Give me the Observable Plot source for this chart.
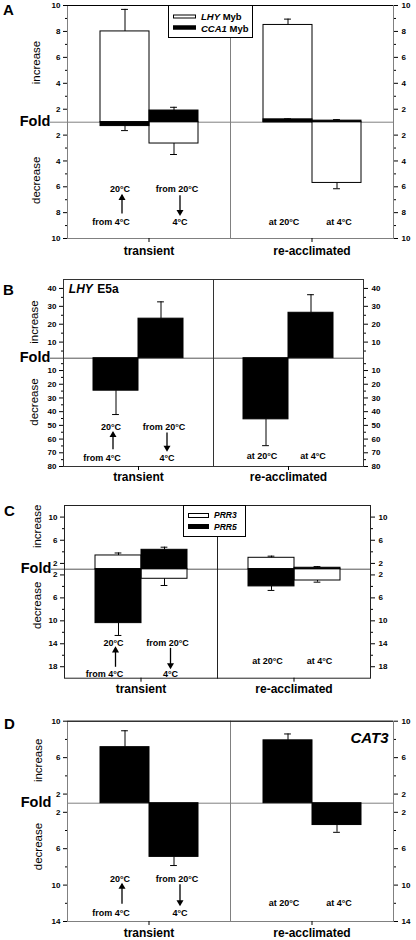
<!DOCTYPE html>
<html><head><meta charset="utf-8">
<script src="https://cdn.jsdelivr.net/npm/d3@7"></script>
<script src="https://cdn.jsdelivr.net/npm/@observablehq/plot@0.6"></script>
<style>
body{margin:0;background:#fff;}
#root{position:relative;width:416px;height:940px;overflow:hidden;font-family:"Liberation Sans",Arial,sans-serif;}
.panel{position:absolute;left:0;}
.legend{position:absolute;background:#fff;border:1px solid #000;box-sizing:border-box;font-weight:bold;color:#000;z-index:5;}
.legend .row{position:absolute;left:0;display:flex;align-items:center;white-space:nowrap;transform:translateY(-50%);}
.legend .sw{display:inline-block;border:1px solid #000;box-sizing:border-box;}
</style></head><body><div id="root"></div>
<script>
// ---------- data ----------
const groups = ["transient", "transient", "re-acclimated", "re-acclimated"];
const temps = ["20°C", "4°C", "20°C", "4°C"]; // final temperature of each condition
// fold change: positive = increase, negative = decrease
const lhyMyb   = [8.0, -2.65, 8.5, -5.7];
const lhyMybSE = [1.7, 0.85, 0.45, 0.45];
const cca1Myb   = [-1.3, 1.9, 1.22, 1.12];
const cca1MybSE = [0.35, 0.25, 0.04, 0.08];
const lhyE5a   = [-24.7, 23.1, -45.6, 26.4];
const lhyE5aSE = [17.4, 9.4, 19.2, 10.1];
const prr3   = [3.37, -2.67, 2.97, -2.97];
const prr3SE = [0.43, 1.17, 0.28, 0.29];
const prr5   = [-10.4, 4.35, -4.0, 1.25];
const prr5SE = [2.15, 0.45, 0.7, 0.2];
const cat3   = [7.15, -6.9, 7.9, -3.4];
const cat3SE = [1.8, 0.95, 0.7, 0.8];
// tick labels
const ticksUpA = [2, 4, 6, 8, 10], ticksDownA = [2, 4, 6, 8, 10], minorUpA = [3, 5, 7, 9], minorDownA = [3, 5, 7, 9];
const ticksUpB = [10, 20, 30, 40], ticksDownB = [10, 20, 30, 40, 50, 60, 70, 80], minorUpB = [5, 15, 25, 35], minorDownB = [5, 15, 25, 35, 45, 55, 65, 75];
const ticksUpC = [2, 6, 10], ticksDownC = [2, 6, 10, 14, 18], minorUpC = [4, 8], minorDownC = [4, 8, 12, 16];
const ticksUpD = [2, 6, 10], ticksDownD = [2, 6, 10, 14], minorUpD = [4, 8], minorDownD = [4, 8, 12];

// ---------- layout ----------
const panels = [
  {letter: "A", svgTop: 0, svgH: 262, left: 67, right: 393, top: 5, zero: 121.7, bottom: 238, up: 10, down: 10,
   ticks: [ticksUpA, ticksDownA, minorUpA, minorDownA],
   series: [{values: lhyMyb, se: lhyMybSE, fill: "white"}, {values: cca1Myb, se: cca1MybSE, fill: "black"}],
   frame: "#808080", topRule: true, zeroColor: "#808080", extendZero: true,
   ann: {top: 6.2, arrowHi: 6.7, arrowLo: 8.1, bottom: 8.7, at: 8.7},
   incY: 5.6, decY: 5.5, labX: 36, letterDy: 5, fxPad: 4},
  {letter: "B", svgTop: 262, svgH: 228, left: 63, right: 363, top: 279, zero: 357.7, bottom: 466, up: 45, down: 80,
   ticks: [ticksUpB, ticksDownB, minorUpB, minorDownB],
   series: [{values: lhyE5a, se: lhyE5aSE, fill: "black"}],
   frame: "#333", topRule: false, zeroColor: "#555", extendZero: true,
   ann: {top: 51.5, arrowHi: 55.6, arrowLo: 67.8, bottom: 74, at: 72.2},
   incY: 21.2, decY: 33, labX: 33.5, letterDy: 10.5, fxPad: 2,
   gene: true},
  {letter: "C", svgTop: 490, svgH: 210, left: 63, right: 370, top: 505, zero: 568.7, bottom: 677.7, up: 12, down: 20,
   ticks: [ticksUpC, ticksDownC, minorUpC, minorDownC],
   series: [{values: prr3, se: prr3SE, fill: "white"}, {values: prr5, se: prr5SE, fill: "black"}],
   frame: "#222", topRule: false, zeroColor: "#555", extendZero: true,
   ann: {top: 13.8, arrowHi: 14.8, arrowLo: 18.1, bottom: 19.2, at: 17.1},
   incY: 8.4, decY: 7.3, labX: 35.5, letterDy: 5.7, fxPad: 2},
  {letter: "D", svgTop: 700, svgH: 240, left: 66, right: 393, top: 720.7, zero: 802.7, bottom: 921, up: 10, down: 14,
   ticks: [ticksUpD, ticksDownD, minorUpD, minorDownD],
   series: [{values: cat3, se: cat3SE, fill: "black"}],
   frame: "#808080", topRule: true, zeroColor: "#808080", extendZero: false,
   ann: {top: 9.3, arrowHi: 9.97, arrowLo: 12.1, bottom: 13.1, at: 12.0},
   incY: 5.7, decY: 5.76, labX: 37, letterDy: 3.3, fxPad: 3,
   cat: true}
];

const root = document.getElementById("root");
const FONT = "Liberation Sans, Arial, sans-serif";

function makePanel(p) {
  const rows = [];
  p.series.forEach(s => s.values.forEach((v, i) => rows.push({g: groups[i], t: temps[i], v, se: s.se[i], fill: s.fill})));
  const base = d => d.v > 0 ? 1 : -1;
  const errEnd = d => d.v + Math.sign(d.v) * d.se;
  const mt = p.top - p.svgTop, mb = p.svgTop + p.svgH - p.bottom;
  const z = p.zero - p.svgTop;
  const PO = 0.66;
  const step = ((p.right - p.left) / 2) / (2 + 2 * PO);
  const capInset = (step - 7) / 2;
  const first = [{g: "transient"}], last = [{g: "re-acclimated"}];
  const [tu, td, mu, md] = p.ticks;
  const majors = [...tu, ...td.map(d => -d)];
  const minors = [...mu, ...md.map(d => -d)];
  const a = p.ann;
  const c1 = [{g: "transient", t: "20°C"}], c2 = [{g: "transient", t: "4°C"}];
  const r1 = [{g: "re-acclimated", t: "20°C"}], r2 = [{g: "re-acclimated", t: "4°C"}];
  const fmt = d => String(Math.abs(d));
  const marks = [
    Plot.ruleY(first, {fx: "g", y: () => 1, stroke: p.zeroColor, insetLeft: p.extendZero ? -(p.left - 50) : 0}),
    Plot.ruleY(last, {fx: "g", y: () => 1, stroke: p.zeroColor}),
    Plot.barY(rows, {fx: "g", x: "t", y1: base, y2: "v", fill: "fill", stroke: "#000", strokeWidth: 1}),
    Plot.ruleX(rows, {fx: "g", x: "t", y1: "v", y2: errEnd, stroke: "#000", strokeWidth: 1}),
    Plot.tickY(rows, {fx: "g", x: "t", y: errEnd, stroke: "#000", strokeWidth: 1, insetLeft: capInset, insetRight: capInset}),
    Plot.frame({stroke: p.frame}),
    p.topRule ? Plot.ruleY([p.up], {stroke: "#000"}) : null,
    Plot.axisY({anchor: "left", ticks: majors, tickFormat: fmt, tickSize: 4, tickPadding: 3, label: null, fontSize: 8}),
    Plot.axisY({anchor: "left", ticks: minors, tickFormat: () => "", tickSize: 2, label: null}),
    Plot.axisY({anchor: "right", ticks: majors, tickFormat: fmt, tickSize: 4, tickPadding: 4, label: null, fontSize: 8}),
    Plot.axisY({anchor: "right", ticks: minors, tickFormat: () => "", tickSize: 2, label: null}),
    Plot.axisFx({anchor: "bottom", tickSize: 4, tickPadding: p.fxPad, label: null, fontSize: 12, fontWeight: "bold"}),
    // side labels
    Plot.text(first, {fx: "g", y: () => p.incY, frameAnchor: "left", text: () => "increase", rotate: -90, textAnchor: "middle", dx: p.labX - p.left, fontSize: 11.5, fontWeight: "normal"}),
    Plot.text(first, {fx: "g", y: () => -p.decY, frameAnchor: "left", text: () => "decrease", rotate: -90, textAnchor: "middle", dx: p.labX - p.left, fontSize: 11.5, fontWeight: "normal"}),
    Plot.text(first, {fx: "g", y: () => 1, frameAnchor: "left", text: () => "Fold", textAnchor: "middle", dx: 34.5 - p.left, dy: -1, fontSize: 14.5, fontWeight: "bold"}),
    Plot.text(first, {fx: "g", frameAnchor: "top-left", text: () => p.letter, textAnchor: "middle", dx: 8 - p.left, dy: p.letterDy, lineAnchor: "middle", fontSize: 15, fontWeight: "bold"}),
    // annotations
    Plot.text(c1, {fx: "g", x: "t", y: () => -a.top, text: () => "20°C", dx: -5, fontSize: 9, fontWeight: "bold"}),
    Plot.ruleX(c1, {fx: "g", x: "t", y1: () => -a.arrowLo, y2: () => -a.arrowHi, dx: -3, stroke: "#000", strokeWidth: 1.3}),
    Plot.dot(c1, {fx: "g", x: "t", y: () => -a.arrowHi, dx: -3, dy: 2, symbol: "triangle", r: 2.6, fill: "#000", stroke: "none"}),
    Plot.text(c1, {fx: "g", x: "t", y: () => -a.bottom, text: () => "from 4°C", dx: -14, fontSize: 9, fontWeight: "bold"}),
    Plot.text(c2, {fx: "g", x: "t", y: () => -a.top, text: () => "from 20°C", dx: 3, fontSize: 9, fontWeight: "bold"}),
    Plot.ruleX(c2, {fx: "g", x: "t", y1: () => -a.arrowHi, y2: () => -a.arrowLo, dx: 6, stroke: "#000", strokeWidth: 1.3}),
    Plot.dot(c2, {fx: "g", x: "t", y: () => -a.arrowLo, dx: 6, dy: -2, symbol: "triangle", rotate: 180, r: 2.6, fill: "#000", stroke: "none"}),
    Plot.text(c2, {fx: "g", x: "t", y: () => -a.bottom, text: () => "4°C", dx: 6, fontSize: 9, fontWeight: "bold"}),
    Plot.text(r1, {fx: "g", x: "t", y: () => -a.at, text: () => "at 20°C", dx: -4, fontSize: 9, fontWeight: "bold"}),
    Plot.text(r2, {fx: "g", x: "t", y: () => -a.at, text: () => "at 4°C", dx: 2, fontSize: 9, fontWeight: "bold"})
  ];
  if (p.gene) {
    marks.push(Plot.text(first, {fx: "g", frameAnchor: "top-left", text: () => "LHY", dx: 5.3, dy: 10, textAnchor: "start", lineAnchor: "middle", fontSize: 12, fontWeight: "bold", fontStyle: "italic"}));
    marks.push(Plot.text(first, {fx: "g", frameAnchor: "top-left", text: () => "E5a", dx: 33.7, dy: 10, textAnchor: "start", lineAnchor: "middle", fontSize: 12, fontWeight: "bold"}));
  }
  if (p.cat) {
    marks.push(Plot.text(last, {fx: "g", frameAnchor: "top-right", text: () => "CAT3", dx: -5, dy: 16.6, textAnchor: "end", lineAnchor: "middle", fontSize: 15, fontWeight: "bold", fontStyle: "italic"}));
  }
  const svg = Plot.plot({
    width: 416, height: p.svgH,
    marginLeft: p.left, marginRight: 416 - p.right, marginTop: mt, marginBottom: mb,
    style: {fontFamily: FONT, fontSize: "8px", fontWeight: "bold", color: "#000", background: "white", overflow: "visible"},
    fx: {domain: ["transient", "re-acclimated"], padding: 0, axis: null, label: null},
    x: {type: "band", domain: ["20°C", "4°C"], paddingInner: 0, paddingOuter: PO, axis: null},
    y: {type: "linear", domain: [-p.down, -1, 1, p.up], range: [p.svgH - mb, z, z, mt], axis: null},
    color: {type: "identity"},
    marks: marks.filter(Boolean)
  });
  const wrap = document.createElement("div");
  wrap.className = "panel";
  wrap.style.top = p.svgTop + "px";
  wrap.appendChild(svg);
  root.appendChild(wrap);
}
panels.forEach(makePanel);

// ---------- inline legends ----------
function legend(box, items) {
  const d = document.createElement("div");
  d.className = "legend";
  Object.assign(d.style, {left: box.left + "px", top: box.top + "px", width: box.w + "px", height: box.h + "px", fontSize: box.fs + "px"});
  items.forEach((it, i) => {
    const r = document.createElement("div");
    r.className = "row";
    r.style.top = box.rows[i] + "px";
    r.style.left = box.swx + "px";
    const sw = document.createElement("span");
    sw.className = "sw";
    Object.assign(sw.style, {width: box.sww + "px", height: box.swh + "px", background: it.fill, marginRight: box.gap + "px"});
    r.appendChild(sw);
    const t = document.createElement("span");
    t.innerHTML = it.html;
    r.appendChild(t);
    d.appendChild(r);
  });
  root.appendChild(d);
}
legend({left: 168, top: 5, w: 85, h: 33, fs: 9.5, rows: [10.3, 21.7], swx: 4, sww: 23, swh: 4, gap: 5},
  [{fill: "#fff", html: "<i>LHY</i> Myb"}, {fill: "#000", html: "<i>CCA1</i> Myb"}]);
legend({left: 183, top: 505, w: 63, h: 32, fs: 8.5, rows: [9.3, 20.7], swx: 4, sww: 21, swh: 5, gap: 5},
  [{fill: "#fff", html: "<i>PRR3</i>"}, {fill: "#000", html: "<i>PRR5</i>"}]);
</script></body></html>
